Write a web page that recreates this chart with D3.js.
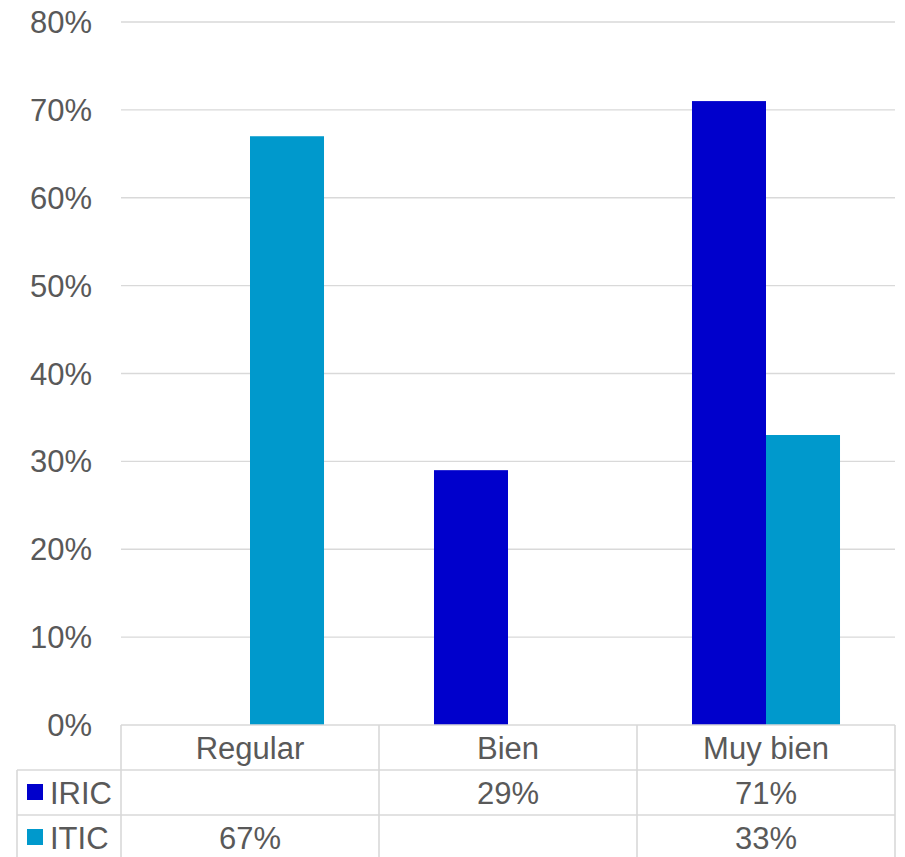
<!DOCTYPE html>
<html>
<head>
<meta charset="utf-8">
<script src="https://cdn.jsdelivr.net/npm/d3@7"></script>
<style>
  html, body { margin: 0; padding: 0; background: #fff; }
  svg text { font-family: "Liberation Sans", Arial, sans-serif; fill: #595959; }
</style>
</head>
<body>
<svg id="chart" width="905" height="857"></svg>
<script>
const categories = ["Regular", "Bien", "Muy bien"];
const seriesNames = ["IRIC", "ITIC"];
const iricValues = [null, 0.29, 0.71];
const iticValues = [0.67, null, 0.33];
const yTicks = [0, 0.1, 0.2, 0.3, 0.4, 0.5, 0.6, 0.7, 0.8];
const colors = ["#0000CC", "#0099CC"];

(function () {
const seriesValues = [iricValues, iticValues];
const svg = d3.select("#chart");
const gridColor = "#d9d9d9";
const fontSize = 31;
const baseOff = 11;

const y = d3.scaleLinear().domain([0, 0.8]).range([725, 22]);
const x = d3.scaleBand().domain(categories).range([121, 895]).paddingInner(0).paddingOuter(0);
const xs = d3.scaleBand().domain(seriesNames).range([0, x.bandwidth()]).paddingInner(0).paddingOuter(0.743);
const fmt = d3.format(".0%");

svg.append("g").selectAll("line").data(yTicks.filter(t => t > 0)).join("line")
  .attr("x1", 121).attr("x2", 895)
  .attr("y1", d => y(d)).attr("y2", d => y(d))
  .attr("stroke", gridColor).attr("stroke-width", 1.4);

svg.append("g").selectAll("text").data(yTicks).join("text")
  .attr("x", 92).attr("y", d => y(d) + baseOff)
  .attr("text-anchor", "end")
  .attr("font-size", fontSize)
  .text(d => fmt(d));

seriesNames.forEach((s, i) => {
  svg.append("g").selectAll("rect")
    .data(categories.map((c, j) => ({ c, v: seriesValues[i][j] })).filter(d => d.v != null))
    .join("rect")
    .attr("x", d => x(d.c) + xs(s))
    .attr("width", xs.bandwidth())
    .attr("y", d => y(d.v))
    .attr("height", d => y(0) - y(d.v))
    .attr("fill", colors[i]);
});

const rowH = 45;
const tableTop = y(0);
const left = 17;
const right = 895;
const t = svg.append("g");
t.append("line").attr("x1", 121).attr("x2", right).attr("y1", tableTop).attr("y2", tableTop)
  .attr("stroke", gridColor).attr("stroke-width", 1.6);
[1, 2].forEach(r => {
  t.append("line").attr("x1", left).attr("x2", right)
    .attr("y1", tableTop + r * rowH).attr("y2", tableTop + r * rowH)
    .attr("stroke", gridColor).attr("stroke-width", 1.6);
});
t.append("line").attr("x1", left).attr("x2", left).attr("y1", tableTop + rowH).attr("y2", 870)
  .attr("stroke", gridColor).attr("stroke-width", 1.6);
const xEdges = categories.map(c => x(c)).concat([x.range()[1]]);
t.selectAll("line.v").data(xEdges).join("line").attr("class", "v")
  .attr("x1", d => d).attr("x2", d => d).attr("y1", tableTop).attr("y2", 870)
  .attr("stroke", gridColor).attr("stroke-width", 1.6);

t.selectAll("text.cat").data(categories).join("text").attr("class", "cat")
  .attr("x", d => x(d) + x.bandwidth() / 2)
  .attr("y", tableTop + rowH / 2 + baseOff)
  .attr("text-anchor", "middle").attr("font-size", fontSize)
  .text(d => d);

seriesNames.forEach((s, i) => {
  const cy = tableTop + rowH * (i + 1) + rowH / 2;
  t.append("rect").attr("x", 27).attr("y", cy - 8.5).attr("width", 16).attr("height", 16)
    .attr("fill", colors[i]);
  t.append("text").attr("x", 50).attr("y", cy + baseOff).attr("font-size", fontSize).text(s);
  t.selectAll("text.val" + i)
    .data(categories.map((c, j) => ({ c, v: seriesValues[i][j] })).filter(d => d.v != null))
    .join("text").attr("class", "val" + i)
    .attr("x", d => x(d.c) + x.bandwidth() / 2)
    .attr("y", cy + baseOff)
    .attr("text-anchor", "middle").attr("font-size", fontSize)
    .text(d => fmt(d.v));
});
})();
</script>
</body>
</html>
